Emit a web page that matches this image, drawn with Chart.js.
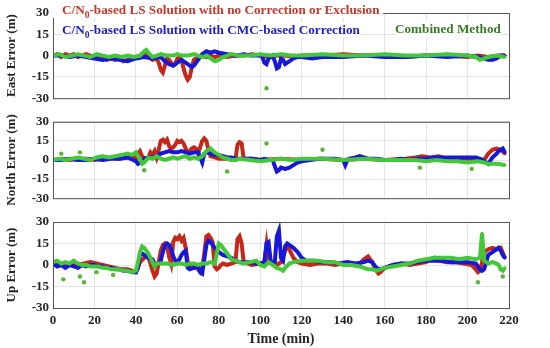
<!DOCTYPE html>
<html>
<head>
<meta charset="utf-8">
<script src="https://cdn.jsdelivr.net/npm/chart.js@4"></script>
<style>
  body { margin: 0; background: #fff; width: 550px; height: 348px; overflow: hidden; position: relative; font-family: "Liberation Serif", serif; font-weight: bold; }
  .panel { position: absolute; left: 0; width: 550px; }
  .lab { position: absolute; background: #fff; white-space: nowrap; font-size: 13.2px; line-height: 15px; height: 16px; }
  .lab sub { font-size: 9.5px; vertical-align: -4px; line-height: 0; }
</style>
</head>
<body>
<div class="panel" style="top:0;height:110px"><canvas id="east"></canvas></div>
<div class="panel" style="top:110px;height:100px"><canvas id="north"></canvas></div>
<div class="panel" style="top:210px;height:138px"><canvas id="up"></canvas></div>

<div class="lab" style="left:53px;top:2px;padding-left:9px;width:321px;color:#c0392b">C/N<sub>0</sub>-based LS Solution with no Correction or Exclusion</div>
<div class="lab" style="left:62px;top:22px;color:#2020c8">C/N<sub>0</sub>-based LS Solution with CMC-based Correction</div>
<div class="lab" style="left:395px;top:21px;color:#3c7a28">Combined Method</div>

<script>
// time ticks (min) and error ticks (m)
const timeTicks = [0, 20, 40, 60, 80, 100, 120, 140, 160, 180, 200, 220];
const errTicks = [-30, -15, 0, 15, 30];

// East error, [time, error]
const eastRed = [[0,0],[2,1],[4,-1],[6,1],[8,0],[10,1],[12,-1],[14,0],[16,1],[18,0],[20,-1],[22,-2],[24,-1],[26,-3],[28,-2],[30,-3],[32,-2],[34,-4],[36,-3],[38,-2],[40,-1],[42,0],[44,2],[46,-1],[48,-3],[50,-2],[51,-5],[52,-10],[53,-12],[54,-7],[55,-2],[56,-3],[57,-5],[58,-7],[59,-6],[60,-2],[61,-1],[62,-3],[63,-9],[64,-14],[65,-17],[66,-15],[67,-8],[68,-3],[70,-1],[72,0],[74,-1],[76,0],[78,-1],[80,0],[84,-1],[88,0],[92,0],[96,1],[100,0],[104,-1],[108,0],[112,0],[116,-1],[120,0],[130,0],[140,1],[150,0],[160,0],[170,-1],[180,0],[190,0],[200,-1],[205,0],[210,-1],[215,0],[218,0]];
const eastBlue = [[0,0],[4,0],[8,-1],[12,0],[16,-1],[20,-2],[24,-3],[28,-2],[32,-3],[36,-4],[40,-2],[44,-1],[48,-2],[52,-1],[54,-4],[56,-6],[58,-7],[60,-5],[62,-3],[64,-5],[66,-7],[67,-8],[68,-7],[70,-3],[72,1],[74,3],[76,2],[78,3],[80,2],[84,1],[88,0],[92,1],[96,0],[100,0],[101,-1],[102,-5],[103,-6],[104,-2],[105,-1],[106,0],[107,-4],[108,-9],[109,-8],[110,-2],[111,-3],[112,-6],[113,-5],[114,-4],[116,-2],[118,-1],[120,-1],[125,-2],[130,-1],[140,-1],[150,0],[160,-1],[170,-1],[180,0],[190,-1],[200,0],[205,-1],[208,-2],[210,-3],[212,-3],[214,-2],[216,0],[218,0]];
const eastGreen = [[0,0],[3,1],[6,-1],[9,0],[12,1],[15,0],[18,-1],[21,1],[24,0],[27,-1],[30,0],[33,-1],[36,0],[39,-1],[42,0],[44,3],[45,4],[46,2],[48,-1],[50,0],[52,1],[55,0],[58,0],[60,1],[62,0],[65,0],[68,1],[70,0],[72,-1],[74,0],[76,-2],[78,-4],[80,-3],[82,-1],[84,0],[86,1],[90,0],[95,0],[100,1],[105,0],[110,1],[115,0],[120,0],[130,1],[140,0],[150,0],[160,1],[170,0],[180,0],[190,1],[200,0],[204,-1],[206,-3],[210,-1],[214,0],[218,-1]];
const eastGreenOut = [[103,-23]];

// North error
const northRed = [[0,0],[4,1],[8,0],[12,1],[16,1],[20,0],[24,1],[28,2],[32,1],[36,2],[38,3],[40,1],[41,5],[42,7],[43,3],[44,1],[46,2],[47,6],[48,4],[49,7],[50,2],[51,8],[52,15],[53,16],[54,14],[55,16],[56,11],[57,9],[58,10],[59,12],[60,15],[61,14],[62,15],[63,13],[64,9],[65,6],[66,7],[67,9],[68,10],[69,9],[70,5],[71,10],[72,15],[73,17],[74,15],[75,8],[76,3],[78,2],[80,1],[84,1],[88,0],[89,12],[90,14],[91,13],[92,1],[96,1],[100,0],[110,1],[120,0],[130,1],[140,0],[150,1],[160,0],[170,1],[175,2],[178,3],[182,2],[186,3],[190,1],[200,1],[205,1],[208,0],[210,5],[212,8],[214,9],[216,8],[218,5]];
const northBlue = [[0,0],[4,0],[8,1],[12,0],[16,0],[20,1],[24,0],[28,1],[32,1],[36,2],[40,-1],[41,-3],[42,-2],[43,-1],[44,1],[46,2],[48,2],[50,3],[52,5],[54,6],[56,7],[58,6],[60,6],[62,7],[64,6],[66,5],[68,6],[70,6],[72,-2],[73,5],[74,6],[76,5],[78,4],[80,4],[82,3],[84,2],[86,2],[88,1],[92,1],[96,1],[100,0],[102,1],[104,0],[106,0],[107,-5],[108,-9],[109,-8],[110,-6],[112,-7],[114,-6],[116,-4],[118,-2],[120,-1],[124,0],[128,1],[132,1],[136,1],[140,0],[141,-4],[142,0],[143,1],[146,2],[148,3],[152,1],[156,1],[160,0],[164,0],[168,1],[172,0],[176,1],[180,1],[184,2],[188,2],[192,2],[196,2],[200,2],[204,2],[206,1],[208,-1],[210,-3],[212,2],[214,5],[215,7],[216,8],[217,9],[218,6]];
const northGreen = [[0,0],[3,1],[6,0],[9,1],[12,2],[15,1],[18,0],[21,2],[24,3],[27,2],[30,3],[33,4],[36,5],[38,4],[40,6],[41,3],[42,1],[43,-3],[44,-2],[45,0],[46,2],[48,1],[50,3],[52,1],[54,0],[56,1],[58,2],[60,1],[62,2],[64,3],[66,1],[68,2],[70,1],[72,3],[74,7],[76,9],[78,6],[80,4],[82,2],[84,1],[86,0],[88,0],[90,1],[95,0],[100,-1],[105,0],[110,1],[115,0],[120,1],[130,1],[140,0],[150,1],[160,0],[170,0],[175,0],[180,-1],[185,0],[190,-1],[195,-1],[200,-2],[205,-1],[208,-2],[210,-3],[214,-3],[218,-4]];
const northGreenOut = [[4,5],[13,6],[44,-8],[84,-9],[103,13],[130,8],[177,-6],[202,-7]];

// Up error
const upRed = [[0,1],[3,0],[6,1],[9,0],[12,0],[15,1],[18,2],[21,1],[24,0],[27,-1],[30,-2],[33,-3],[36,-3],[38,-4],[40,-5],[42,2],[44,5],[46,6],[48,-4],[49,-8],[50,-6],[51,2],[52,10],[53,14],[54,15],[55,13],[56,6],[57,1],[58,16],[59,19],[60,18],[61,20],[62,17],[63,19],[64,12],[65,2],[66,0],[68,-1],[70,-3],[71,-5],[72,-2],[73,8],[74,20],[75,21],[76,19],[77,16],[78,-1],[79,-3],[80,-2],[81,0],[82,1],[84,0],[86,1],[88,2],[89,18],[90,20],[91,15],[92,2],[94,1],[96,0],[100,1],[102,2],[103,14],[104,2],[106,1],[108,0],[110,2],[112,10],[113,12],[114,11],[115,8],[116,5],[118,2],[120,1],[124,0],[128,1],[132,1],[136,0],[140,1],[144,0],[148,1],[150,4],[152,6],[154,2],[156,-4],[157,-6],[158,-5],[160,-2],[164,0],[168,1],[172,0],[176,1],[180,2],[182,4],[184,5],[186,3],[190,2],[194,2],[198,1],[202,0],[204,-3],[205,-5],[206,-4],[207,2],[208,9],[210,11],[212,12],[214,11],[216,12],[218,5]];
const upBlue = [[0,1],[2,-1],[4,0],[6,-2],[8,0],[10,-1],[12,-2],[14,0],[16,-1],[18,0],[20,0],[22,-1],[24,-1],[26,-2],[28,-2],[30,-3],[32,-3],[34,-4],[36,-4],[38,-5],[40,-5],[41,-2],[42,8],[43,8],[44,7],[46,5],[48,4],[49,1],[51,1],[52,3],[53,9],[54,14],[55,15],[56,14],[57,11],[58,6],[59,3],[60,2],[61,4],[62,7],[63,9],[64,10],[65,-2],[66,-3],[68,-2],[70,-1],[71,-5],[72,-6],[73,4],[74,14],[75,17],[76,16],[77,14],[78,12],[80,9],[82,7],[84,6],[86,5],[88,3],[90,2],[94,2],[98,1],[100,1],[102,2],[103,15],[104,16],[105,3],[106,1],[107,2],[108,20],[109,24],[110,5],[111,3],[112,13],[113,15],[114,14],[116,12],[118,9],[120,5],[122,3],[126,3],[130,2],[134,2],[138,1],[142,2],[146,1],[150,2],[152,3],[154,2],[156,-2],[158,-3],[160,-2],[164,0],[168,1],[172,1],[176,2],[180,3],[184,3],[188,3],[192,2],[196,2],[200,2],[204,1],[206,-3],[207,-4],[208,-3],[209,2],[210,7],[212,9],[214,11],[215,12],[216,10],[217,7],[218,5]];
const upGreen = [[0,2],[2,3],[4,1],[6,2],[8,1],[10,3],[12,1],[14,0],[16,0],[18,-1],[20,-1],[22,-1],[24,-2],[26,-2],[28,-3],[30,-3],[32,-3],[34,-4],[36,-4],[38,-5],[40,-4],[41,2],[42,9],[43,13],[44,12],[45,10],[46,8],[47,5],[48,2],[49,-1],[50,1],[52,1],[55,1],[58,0],[60,1],[62,1],[64,0],[66,1],[68,1],[70,0],[72,1],[74,1],[76,2],[78,1],[79,8],[80,15],[81,14],[82,12],[84,8],[86,4],[88,3],[90,2],[92,1],[95,2],[98,3],[100,0],[102,-1],[104,2],[106,0],[108,-2],[110,-3],[111,-4],[112,-2],[114,1],[116,2],[120,3],[124,3],[128,3],[132,2],[136,2],[140,0],[144,0],[148,-1],[150,-2],[152,-3],[154,-3],[156,-4],[158,-3],[160,-2],[164,-1],[168,0],[172,1],[176,3],[180,4],[184,5],[188,5],[192,5],[196,4],[200,5],[204,4],[206,5],[207,22],[208,3],[210,1],[212,2],[214,1],[215,0],[216,-3],[217,-4],[218,-2]];
const upGreenOut = [[5,-10],[13,-8],[15,-12],[21,-5],[29,-7],[205,-12],[217,-8]];

Chart.defaults.font.family = '"Liberation Serif", serif';
Chart.defaults.font.weight = 'bold';
Chart.defaults.color = '#262626';

const toXY = arr => arr.map(p => ({ x: p[0], y: p[1] }));

// box round the plot area (MATLAB "box on")
const boxPlugin = {
    id: 'box',
    afterDraw(chart) {
        const a = chart.chartArea, ctx = chart.ctx;
        ctx.save();
        ctx.strokeStyle = '#555';
        ctx.lineWidth = 1;
        ctx.strokeRect(a.left + 0.5, a.top + 0.5, a.right - a.left, a.bottom - a.top);
        ctx.restore();
    }
};

function lineSet(data, color, order) {
    return {
        data: toXY(data), showLine: true, borderColor: color, backgroundColor: color,
        borderWidth: 4, pointRadius: 1.6, pointBorderWidth: 0, order: order
    };
}

function makePanel(id, title, red, blue, green, out, padTop, padBottom, bottom) {
    new Chart(document.getElementById(id), {
        type: 'scatter',
        data: {
            datasets: [
                lineSet(green, '#44c83a', 1),
                { data: toXY(out), backgroundColor: '#5ab43c', pointRadius: 2.2, pointBorderWidth: 0, order: 0 },
                lineSet(blue, '#1818d8', 2),
                lineSet(red, '#c42818', 3)
            ]
        },
        options: {
            responsive: true, maintainAspectRatio: false, animation: false,
            layout: { padding: { left: 0, right: 41, top: padTop, bottom: padBottom } },
            plugins: { legend: { display: false }, tooltip: { enabled: false } },
            scales: {
                x: {
                    type: 'linear', min: 0, max: 220,
                    afterBuildTicks: s => { s.ticks = timeTicks.map(v => ({ value: v })); },
                    ticks: { display: bottom, font: { size: 13 }, padding: 5, maxRotation: 0 },
                    grid: { color: '#e4e4e4', drawTicks: false },
                    border: { display: false },
                    title: { display: bottom, text: 'Time (min)', font: { size: 14 }, padding: { top: 2, bottom: 0 } },
                    afterFit: s => { s.height = bottom ? 40 : 0; }
                },
                y: {
                    min: -30, max: 30,
                    afterBuildTicks: s => { s.ticks = errTicks.map(v => ({ value: v })); },
                    ticks: { font: { size: 13 }, padding: 4 },
                    grid: { color: '#e4e4e4', drawTicks: false },
                    border: { display: false },
                    title: { display: true, text: title, font: { size: 13 }, padding: { top: 4, bottom: 0 } },
                    afterFit: s => { s.width = 53; }
                }
            }
        },
        plugins: [boxPlugin]
    });
}

makePanel('east', 'East Error (m)', eastRed, eastBlue, eastGreen, eastGreenOut, 13, 8, false);
makePanel('north', 'North Error (m)', northRed, northBlue, northGreen, northGreenOut, 11, 6, false);
makePanel('up', 'Up Error (m)', upRed, upBlue, upGreen, upGreenOut, 12, 0, true);
</script>
</body>
</html>
